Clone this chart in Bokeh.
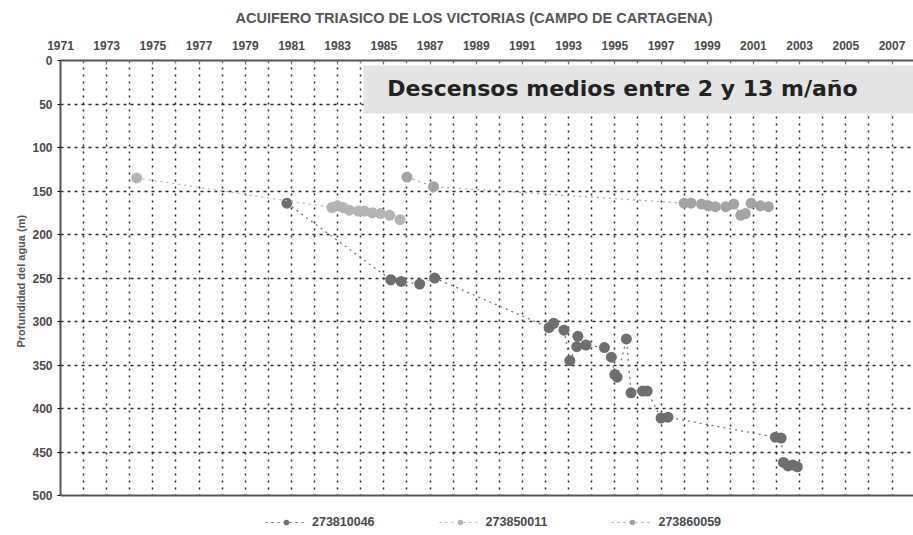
from bokeh.plotting import figure
from bokeh.models import (Range1d, FixedTicker, BoxAnnotation, Label, Span,
                          Legend, LegendItem, Title)
from bokeh.embed import file_html
from bokeh.resources import INLINE

# ---------------- data ----------------
chart_title = "ACUIFERO TRIASICO DE LOS VICTORIAS (CAMPO DE CARTAGENA)"
note_text = "Descensos medios entre 2 y 13 m/año"
y_title = "Profundidad del agua (m)"
year_ticks = list(range(1971, 2008, 2))
grid_years = list(range(1972, 2008))
depth_ticks = list(range(0, 501, 50))
depth_grid = list(range(50, 451, 50))
depth_max = 500

s1_name = "273810046"
s1_year = [1980.8, 1985.3, 1985.75, 1986.55, 1987.2, 1992.15, 1992.35, 1992.8,
           1993.05, 1993.35, 1993.4, 1993.75, 1994.55, 1994.85, 1995.0, 1995.1,
           1995.5, 1995.7, 1996.2, 1996.4, 1997.0, 1997.3, 2001.95, 2002.2,
           2002.3, 2002.5, 2002.7, 2002.9]
s1_depth = [164, 252, 254, 257, 250, 307, 302, 310,
            345, 329, 317, 327, 330, 341, 361, 364,
            320, 382, 380, 380, 411, 410, 433, 434,
            462, 466, 465, 467]

s2_name = "273850011"
s2_year = [1974.3, 1982.75, 1983.0, 1983.25, 1983.5, 1983.9, 1984.15, 1984.5,
           1984.85, 1985.25, 1985.7]
s2_depth = [135, 169, 167, 169, 172, 173, 173, 175, 176, 178, 183]

s3_name = "273860059"
s3_year = [1986.0, 1987.15, 1998.0, 1998.3, 1998.75, 1999.05, 1999.35, 1999.8,
           2000.15, 2000.45, 2000.65, 2000.9, 2001.3, 2001.65]
s3_depth = [134, 145, 164, 164, 165, 167, 168, 168, 165, 178, 176, 164, 167, 168]

# ---------------- styles / layout ----------------
c1, c2, c3 = "#6e6e6e", "#b4b4b4", "#a4a4a4"
txt = "#4a4a4a"
axis_col = "#555555"
grid_col = "#2a2a2a"
FONT = "Liberation Sans"
W, H = 913, 535
FRAME_TOP, PLOT_BOTTOM = 60, 495        # pixel rows of depth 0 and depth 500
y_extent = depth_max * (H - FRAME_TOP) / (PLOT_BOTTOM - FRAME_TOP)

p = figure(width=W, height=H, output_backend="svg", toolbar_location=None,
           x_range=Range1d(1971, 2007.93), y_range=Range1d(y_extent, 0),
           x_axis_location="above",
           min_border_left=60, min_border_top=FRAME_TOP, min_border_bottom=0,
           min_border_right=0)
p.outline_line_color = None
p.background_fill_color = "white"
p.border_fill_color = "white"

# title
p.title.text = chart_title
p.title.align = "left"
p.title.offset = 175
p.title.standoff = 19
p.title.vertical_align = "top"
p.title.text_font = FONT
p.title.text_font_style = "bold"
p.title.text_font_size = "14.5px"
p.title.text_color = "#555555"

# top axis
ax = p.xaxis[0]
ax.ticker = FixedTicker(ticks=year_ticks, minor_ticks=grid_years)
ax.major_label_text_font = FONT
ax.major_label_text_font_style = "bold"
ax.major_label_text_font_size = "12px"
ax.major_label_text_color = txt
ax.major_label_standoff = 11
ax.major_tick_out = 0
ax.major_tick_in = 4
ax.minor_tick_out = 0
ax.minor_tick_in = 3
ax.axis_line_color = axis_col
ax.axis_line_width = 2
ax.major_tick_line_color = "#777777"
ax.minor_tick_line_color = "#777777"

# left axis
ay = p.yaxis[0]
ay.ticker = FixedTicker(ticks=depth_ticks)
ay.bounds = (0, depth_max)
ay.major_label_text_font = FONT
ay.major_label_text_font_style = "bold"
ay.major_label_text_font_size = "12px"
ay.major_label_text_color = txt
ay.major_label_standoff = 5
ay.major_tick_out = 3
ay.major_tick_in = 0
ay.minor_tick_line_color = None
ay.axis_line_color = axis_col
ay.axis_line_width = 2

# y-axis title, centred on the 0-500 part of the frame
p.add_layout(Title(text=y_title, align="left", offset=H - 347, standoff=6,
                   text_font=FONT, text_font_style="bold", text_font_size="11px",
                   text_color="#555555"), "left")

# grids
p.xgrid.ticker = FixedTicker(ticks=grid_years)
p.xgrid.grid_line_color = grid_col
p.xgrid.grid_line_width = 1.5
p.xgrid.grid_line_dash = "2 5"
p.ygrid.ticker = FixedTicker(ticks=depth_grid)
p.ygrid.grid_line_color = grid_col
p.ygrid.grid_line_width = 1.4
p.ygrid.grid_line_dash = "3 4"

# series
renderers = []
for name, xs, ys, col in [(s1_name, s1_year, s1_depth, c1),
                          (s2_name, s2_year, s2_depth, c2),
                          (s3_name, s3_year, s3_depth, c3)]:
    ln = p.line(xs, ys, line_color=col, line_width=1.2, line_dash="2 4")
    sc = p.scatter(xs, ys, size=11, fill_color=col, line_color=None)
    renderers.append((name, ln, sc))

# white area below the plot (legend zone) and bottom axis line
p.add_layout(BoxAnnotation(top=depth_max, fill_color="white", fill_alpha=1.0,
                           line_color=None))
p.add_layout(Span(location=depth_max, dimension="width", line_color=axis_col,
                  line_width=2))

# annotation box
p.add_layout(BoxAnnotation(left=1984.12, top=5.7, bottom=61, fill_color="#e4e4e4",
                           fill_alpha=1.0, line_color=None))
p.add_layout(Label(x=1995.33, y=32, text=note_text, text_font="DejaVu Sans",
                   text_font_style="bold", text_font_size="22px",
                   text_align="center", text_baseline="middle",
                   text_color="#222222"))

legend = Legend(items=[LegendItem(label=n, renderers=[l, s]) for n, l, s in renderers],
                orientation="horizontal", location=(205, 6),
                glyph_width=42, glyph_height=14, label_standoff=5, spacing=64,
                padding=0, margin=0, border_line_color=None,
                background_fill_alpha=0,
                label_text_font=FONT, label_text_font_style="bold",
                label_text_font_size="12.5px", label_text_color=txt)
p.add_layout(legend, "center")

open("out.html", "w").write(file_html(p, INLINE))
